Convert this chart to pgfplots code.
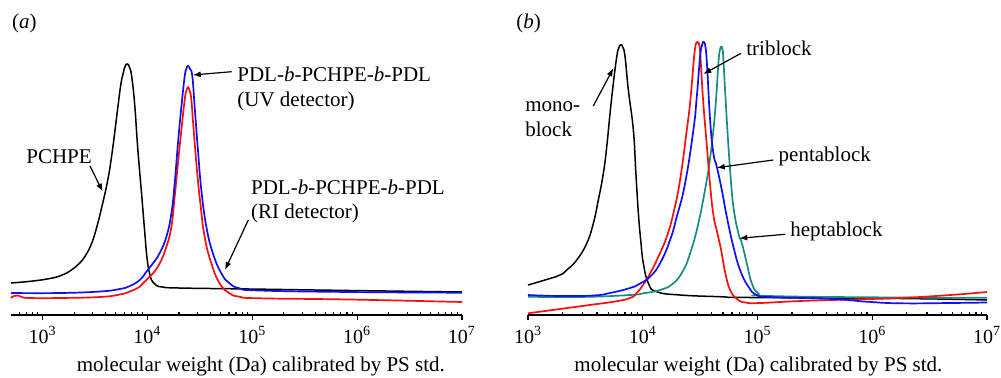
\documentclass[border=0pt]{standalone}
\usepackage{pgfplots}
\pgfplotsset{compat=1.18}
\usetikzlibrary{arrows.meta}
\usepackage{fontspec}
\setmainfont{Liberation Serif}
\definecolor{tealc}{RGB}{25,140,130}
\definecolor{bluec}{RGB}{15,15,245}
\definecolor{redc}{RGB}{245,15,15}
\begin{document}
\fontsize{10.5}{12.6}\selectfont
\begin{tikzpicture}
\useasboundingbox (0,0) rectangle (500.5pt,188.5pt);
% ---------------- panel (a)
\begin{axis}[xmode=log, scale only axis, height=140pt, ymin=0, ymax=280,
  axis x line=bottom, axis y line=none,
  x axis line style={-, line width=0.7pt},
  clip=false, anchor=south west,
  xtick={1e3,1e4,1e5,1e6,1e7},
  xticklabels={10\textsuperscript{3},10\textsuperscript{4},10\textsuperscript{5},10\textsuperscript{6},10\textsuperscript{7}},
  tick align=inside, major tick length=-2.5pt, minor tick length=1.6pt,
  tick style={black, line width=0.6pt},
  xticklabel style={font=\fontsize{10}{12}\selectfont, anchor=base, yshift=-14pt, inner sep=0pt},
  xlabel={molecular weight (Da) calibrated by PS std.},
  at={(5.5pt,31pt)}, width=225.5pt, xmin=500, xmax=1e7,
  minor xtick={600,700,800,900,2000,3000,4000,5000,6000,7000,8000,9000,20000,30000,40000,50000,60000,70000,80000,90000,200000,300000,400000,500000,600000,700000,800000,900000,2000000,3000000,4000000,5000000,6000000,7000000,8000000,9000000},
  xlabel style={at={(axis description cs:0.554,0)}, anchor=base, yshift=-28.25pt, inner sep=0pt}]
\addplot[black, line width=0.75pt, smooth, tension=0.8, no markers] coordinates {(500,32)(809,34)(1174,36.5)(1461,39)(1702,42)(2030,47.5)(2265,52)(2585,60)(2948,72)(3289,88)(3671,108)(4187,135)(4571,160)(4883,183)(5213,207)(5568,230)(5882,242)(6145,249)(6449,251)(6783,247)(7089,238)(7568,210)(8082,167)(8768,123)(9425,83)(9912,57)(10517,41)(11234,33)(12200,29.5)(14000,28)(20000,27)(94250,26)(844900,24.5)(1e7,23)};
\addplot[redc, line width=0.85pt, smooth, tension=0.8, no markers] coordinates {(500,17)(533,19)(582,19.5)(635,18)(757,17)(1461,17)(3513,18)(5448,20.5)(6783,23.5)(8447,28.3)(9784,35)(11307,41.7)(13097,51.7)(15170,68.3)(16930,88.3)(18200,118.3)(19560,151.7)(21080,185)(22660,215)(23500,224)(24360,227.7)(25300,224)(26240,215)(27610,185)(29680,145)(31970,111.7)(35130,78.3)(40690,51.7)(48830,31.7)(60780,21.7)(75690,18.3)(117400,16.7)(844900,15.5)(1e7,13)};
\addplot[bluec, line width=0.85pt, smooth, tension=0.8, no markers] coordinates {(500,22)(1461,22)(3513,23.5)(5448,26)(6783,29)(8447,35)(9784,43.3)(11307,51.7)(13097,62)(15170,78.3)(16930,101.7)(18200,131.7)(19560,171.7)(21080,208.3)(22660,238.3)(23500,246)(24360,249)(25500,246)(26830,238.3)(28210,208.3)(30330,165)(32680,125)(36480,88.3)(42150,61.7)(50670,41.7)(60780,31.7)(75690,26.7)(117400,24.5)(844900,23)(1e7,22.3)};
\end{axis}
% ---------------- panel (b)
\begin{axis}[xmode=log, scale only axis, height=140pt, ymin=0, ymax=280,
  axis x line=bottom, axis y line=none,
  x axis line style={-, line width=0.7pt},
  clip=false, anchor=south west,
  xtick={1e3,1e4,1e5,1e6,1e7},
  xticklabels={10\textsuperscript{3},10\textsuperscript{4},10\textsuperscript{5},10\textsuperscript{6},10\textsuperscript{7}},
  tick align=inside, major tick length=-2.5pt, minor tick length=1.6pt,
  tick style={black, line width=0.6pt},
  xticklabel style={font=\fontsize{10}{12}\selectfont, anchor=base, yshift=-14pt, inner sep=0pt},
  xlabel={molecular weight (Da) calibrated by PS std.},
  at={(264pt,31pt)}, width=229.5pt, xmin=1000, xmax=1e7,
  minor xtick={2000,3000,4000,5000,6000,7000,8000,9000,20000,30000,40000,50000,60000,70000,80000,90000,200000,300000,400000,500000,600000,700000,800000,900000,2000000,3000000,4000000,5000000,6000000,7000000,8000000,9000000},
  xlabel style={at={(axis description cs:0.502,0)}, anchor=base, yshift=-28.25pt, inner sep=0pt}]
\addplot[black, line width=0.75pt, smooth, tension=0.8, no markers] coordinates {(1000,30)(1407,35)(1901,40)(2175,45)(2658,55)(3250,71.7)(3710,91.7)(4102,115)(4535,141.7)(4854,168.3)(5187,201.7)(5542,231.7)(5934,258.3)(6178,267)(6430,270)(6692,268)(7009,258.3)(7490,225)(8279,185)(8700,143)(9155,102)(9650,72)(10120,51.7)(11190,31.7)(13240,23.3)(21140,20)(47210,18.3)(86200,17.5)(1751000,16.5)(1e7,15)};
\addplot[tealc, line width=0.85pt, smooth, tension=0.8, no markers] coordinates {(1000,18.3)(2841,18)(7752,20)(10120,21.7)(14150,25)(18490,31.7)(22590,45)(25850,61.7)(30530,91.7)(36140,135)(38630,157)(41260,185)(43550,216)(45610,251.7)(46720,263)(48150,268.3)(49620,265)(50430,255)(54000,195)(57700,145)(61650,108.3)(68160,81.7)(72980,72)(80660,51.7)(89200,31.7)(101800,21.7)(128800,19)(1751000,17.5)(1e7,17.3)};
\addplot[redc, line width=0.85pt, smooth, tension=0.8, no markers] coordinates {(1000,1.7)(1901,6)(3710,10.5)(5735,13.5)(7752,17)(8867,22)(10120,30.5)(11580,41.5)(13680,58.3)(16190,78.3)(18490,101.7)(21140,135)(24190,185)(25850,212)(27620,250)(28580,267)(29570,272.7)(30660,271)(31600,263)(33550,215)(36140,170)(38630,130)(41260,100)(44440,83)(48150,65)(52180,43)(57700,25)(66420,16)(77980,12.5)(105400,12)(235200,14)(641800,15.5)(1751000,17)(4777000,20)(1e7,23)};
\addplot[bluec, line width=0.85pt, smooth, tension=0.8, no markers] coordinates {(1000,20)(1901,19)(3710,19.5)(5187,22)(7752,27)(9474,31.5)(11580,38.3)(14150,51.7)(17300,75)(19790,98.3)(23380,131.7)(27620,185)(29570,218.3)(31600,258.3)(32890,270)(34100,273)(35280,267)(36360,249)(38630,195)(41260,161.7)(44170,148.3)(48850,125)(54000,98.3)(61650,68.3)(70530,45)(83320,28.3)(98600,20)(128800,18)(456100,16)(897500,13.3)(1751000,11.7)(4777000,12)(1e7,12.5)};
\end{axis}
% ---------------- annotations (pixel-like frame)
\begin{scope}[x=0.5pt,y=-0.5pt,yshift=188.5pt]
\tikzset{ann/.style={-{Latex[length=4pt,width=3pt]}, line width=0.6pt, black}}
\node[anchor=base west,inner sep=0] at (11.7,28.3) {(\textit{a})};
\node[anchor=base west,inner sep=0] at (516,28.3) {(\textit{b})};
% panel a
\node[anchor=base west,inner sep=0] at (26,163.3) {PCHPE};
\draw[ann] (90,166) -- (102.7,191.7);
\node[anchor=base west,inner sep=0] at (237,81) {PDL-\textit{b}-PCHPE-\textit{b}-PDL};
\node[anchor=base west,inner sep=0] at (237,106) {(UV detector)};
\draw[ann] (231.7,71.7) -- (192.7,75);
\node[anchor=base west,inner sep=0] at (250.7,194) {PDL-\textit{b}-PCHPE-\textit{b}-PDL};
\node[anchor=base west,inner sep=0] at (250.7,218.3) {(RI detector)};
\draw[ann] (248.3,220) -- (225,270);
% panel b
\node[anchor=base west,inner sep=0] at (525,111) {mono-};
\node[anchor=base west,inner sep=0] at (525,136) {block};
\draw[ann] (593.3,106) -- (613.3,68.3);
\node[anchor=base west,inner sep=0] at (746,55) {triblock};
\draw[ann] (741,53.3) -- (703.3,74);
\node[anchor=base west,inner sep=0] at (778.3,161) {pentablock};
\draw[ann] (773.3,160) -- (716.7,167.7);
\node[anchor=base west,inner sep=0] at (790,236.7) {heptablock};
\draw[ann] (785,234.3) -- (739.3,238.3);
\end{scope}
\end{tikzpicture}
\end{document}
